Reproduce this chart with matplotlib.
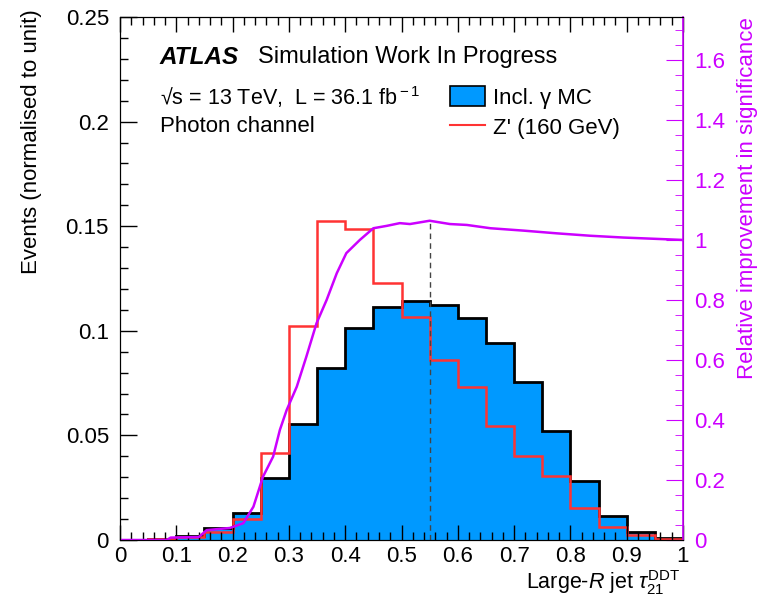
import matplotlib
matplotlib.use("Agg")
import matplotlib.pyplot as plt
from matplotlib.ticker import MultipleLocator, FuncFormatter
from matplotlib.patches import Patch
from matplotlib.lines import Line2D
import numpy as np

plt.rcParams['font.family'] = ['Liberation Sans', 'DejaVu Sans']
plt.rcParams['mathtext.fontset'] = 'custom'
plt.rcParams['mathtext.rm'] = 'Liberation Sans'
plt.rcParams['mathtext.it'] = 'Liberation Sans:italic'
plt.rcParams['mathtext.bf'] = 'Liberation Sans:bold'

# binning of tau21 DDT
bin_edges = np.linspace(0, 1, 21)

# inclusive photon MC (normalised)
incl_gamma = [0.0, 0.0003, 0.0019, 0.0056, 0.0128, 0.0298, 0.0555, 0.0822, 0.1015, 0.1115,
              0.1143, 0.1121, 0.1062, 0.0941, 0.0754, 0.0523, 0.0282, 0.0115, 0.0037, 0.0008]

# Z' 160 GeV signal (normalised)
zprime = [0.0, 0.0005, 0.0014, 0.004, 0.010, 0.0416, 0.1023, 0.1525, 0.1487, 0.1227,
          0.1068, 0.0861, 0.0732, 0.0544, 0.0402, 0.0306, 0.0152, 0.0061, 0.0024, 0.0003]

# relative improvement in significance vs cut value
cut_x = [0.0, 0.083, 0.09, 0.14, 0.154, 0.195, 0.219, 0.237, 0.254, 0.272, 0.284, 0.296,
         0.314, 0.331, 0.349, 0.367, 0.385, 0.402, 0.426, 0.45, 0.474, 0.497, 0.515, 0.55,
         0.586, 0.616, 0.658, 0.717, 0.776, 0.835, 0.894, 1.0]
signif = [0.0, 0.0, 0.008, 0.01, 0.033, 0.04, 0.056, 0.111, 0.211, 0.278, 0.367, 0.433,
          0.511, 0.611, 0.722, 0.8, 0.889, 0.956, 1.0, 1.039, 1.047, 1.056, 1.053, 1.064,
          1.053, 1.05, 1.039, 1.031, 1.022, 1.014, 1.008, 1.0]
best_cut = 0.55
best_signif = 1.064

blue = '#0099FF'
red = '#FF3333'
magenta = '#CC00FF'
fs = 16

fig = plt.figure(figsize=(7.68, 5.98), dpi=100)
ax = fig.add_axes([120/768, 58/598, 563/768, 523/598])

ax.stairs(incl_gamma, bin_edges, fill=True, color=blue)
ax.stairs(incl_gamma, bin_edges, color='black', lw=2)
ax.stairs(zprime, bin_edges, color=red, lw=1.8)

ax.set_xlim(0, 1)
ax.set_ylim(0, 0.25)
ax.xaxis.set_major_locator(MultipleLocator(0.1))
ax.xaxis.set_minor_locator(MultipleLocator(0.02))
ax.yaxis.set_major_locator(MultipleLocator(0.05))
ax.yaxis.set_minor_locator(MultipleLocator(0.01))
fmt = FuncFormatter(lambda v, p: '%g' % round(v, 3))
ax.xaxis.set_major_formatter(fmt)
ax.yaxis.set_major_formatter(fmt)
ax.tick_params(which='both', direction='in', top=True, right=False, labelsize=fs)
ax.tick_params(which='major', length=12, width=1)
ax.tick_params(which='minor', length=6, width=1)
ax.tick_params(axis='x', which='major', length=11, pad=4)
ax.tick_params(axis='y', pad=8)

ax.set_xlabel(r'Large-$\mathit{R}$ jet $\tau_{21}^{\rm DDT}$', fontsize=15.5, loc='right')
ax.xaxis.set_label_coords(0.995, -0.054)
ax.set_ylabel('Events (normalised to unit)', fontsize=fs, loc='top')
ax.yaxis.set_label_coords(-0.139, 1.015)

# significance on the right axis
ax2 = ax.twinx()
ax2.plot(cut_x, signif, color=magenta, lw=1.8)
ax2.vlines(best_cut, 0, best_signif, colors='#444444', linestyles=(0, (4, 3)), lw=1)
ax2.set_ylim(0, 1.743)
ax2.yaxis.set_major_locator(MultipleLocator(0.2))
ax2.yaxis.set_minor_locator(MultipleLocator(0.05))
ax2.yaxis.set_major_formatter(fmt)
ax2.tick_params(which='both', direction='in', colors=magenta, labelsize=fs, pad=8)
ax2.tick_params(which='major', length=12)
ax2.tick_params(which='minor', length=6)
ax2.spines['right'].set_color(magenta)
ax2.spines['right'].set_linewidth(1.2)
ax2.set_ylabel('Relative improvement in significance', fontsize=fs, color=magenta, loc='top')
ax2.yaxis.set_label_coords(1.096, 1.0)

# labels
ax.text(0.071, 0.923, 'ATLAS', transform=ax.transAxes, fontsize=17.5,
        fontweight='bold', fontstyle='italic', va='center')
ax.text(0.245, 0.923, 'Simulation Work In Progress', transform=ax.transAxes,
        fontsize=17, va='center')
ax.text(0.071, 0.847, r'√s = 13 TeV,  L = 36.1 fb$^{\rm -1}$',
        transform=ax.transAxes, fontsize=15.5, va='center')
ax.text(0.071, 0.79, 'Photon channel', transform=ax.transAxes, fontsize=fs, va='center')

handles = [Patch(facecolor=blue, edgecolor='black', lw=1.2),
           Line2D([], [], color=red, lw=1.5)]
ax.legend(handles, ['Incl. γ MC', "Z' (160 GeV)"], loc='upper left',
          bbox_to_anchor=(0.586, 0.868), frameon=False, fontsize=fs,
          handlelength=1.6, handleheight=1.0, handletextpad=0.35, labelspacing=0.35,
          borderaxespad=0, borderpad=0)

fig.savefig('out.png', dpi=100)
